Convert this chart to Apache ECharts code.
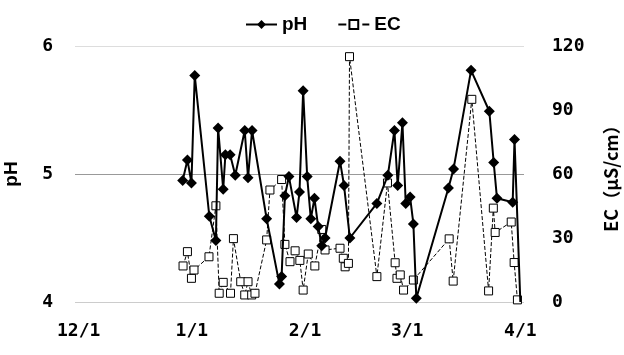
<!DOCTYPE html>
<html>
<head>
<meta charset="utf-8">
<script src="https://cdn.jsdelivr.net/npm/echarts@6/dist/echarts.min.js"></script>
<style>
  html, body { margin: 0; padding: 0; background: #fff; }
  #chart { width: 624px; height: 355px; }
</style>
</head>
<body>
<div id="chart"></div>
<script>
// days counted from 12/1
var tickDays = [0, 31, 62, 90, 121];
var tickLabels = ['12/1', '1/1', '2/1', '3/1', '4/1'];

var phDays = [28.5, 29.8, 30.9, 31.8, 35.8, 37.6, 38.2, 39.6, 40.2, 41.5, 42.9, 45.5, 46.4, 47.5,
  51.5, 55.0, 55.6, 56.5, 57.6, 59.7, 60.5, 61.5, 62.6, 63.6, 64.6, 65.6, 66.6, 67.5, 71.6, 72.7,
  74.3, 81.7, 84.7, 86.5, 87.4, 88.7, 89.6, 90.8, 91.7, 92.5, 101.3, 102.7, 107.5, 112.5, 113.7,
  114.6, 118.9, 119.4];
var phValues = [4.95, 5.11, 4.93, 5.77, 4.67, 4.48, 5.36, 4.88, 5.15, 5.15, 4.99, 5.34, 4.97, 5.34,
  4.65, 4.14, 4.2, 4.83, 4.98, 4.66, 4.86, 5.65, 4.98, 4.65, 4.81, 4.59, 4.44, 4.5, 5.1, 4.91,
  4.5, 4.77, 4.99, 5.34, 4.91, 5.4, 4.77, 4.82, 4.61, 4.03, 4.89, 5.04, 5.81, 5.49, 5.09,
  4.81, 4.78, 5.27];
// line falls to the axis at the end
var phEnd = [121, 4.0];

var ecDays = [28.6, 29.8, 30.9, 31.6, 35.7, 37.6, 38.5, 39.6, 41.6, 42.4, 44.4, 45.5, 46.4, 47.4,
  48.3, 51.5, 52.4, 55.6, 56.5, 57.9, 59.3, 60.6, 61.5, 62.9, 64.7, 66.6, 67.5, 71.6, 72.5, 73.0,
  73.9, 74.2, 81.7, 84.6, 86.7, 87.2, 88.1, 89.0, 91.7, 101.5, 102.6, 107.7, 112.3, 113.6, 114.1,
  118.5, 119.3, 120.2];
var ecValues = [16.9, 23.6, 11.1, 15, 21.2, 45.1, 4.1, 9.2, 4.1, 29.7, 9.5, 3.3, 9.5, 3.3,
  4.1, 29.1, 52.5, 57.4, 27, 18.9, 24, 19.5, 5.6, 22.5, 16.9, 34, 24.4, 25.2, 20.5, 16.5,
  18.1, 115, 11.9, 55.8, 18.4, 11.1, 12.7, 5.6, 10.3, 29.6, 9.8, 95, 5.2, 44, 32.6,
  37.5, 18.5, 1];

var phData = [];
for (var i = 0; i < phDays.length; i++) {
  phData.push([phDays[i], phValues[i]]);
}
phData.push({ value: phEnd, symbol: 'none' });

var ecData = [];
for (var j = 0; j < ecDays.length; j++) {
  ecData.push([ecDays[j], ecValues[j]]);
}

var labelFont = {
  color: '#000',
  fontWeight: 'bold',
  fontSize: 18,
  fontFamily: 'DejaVu Sans Mono'
};

var myChart = echarts.init(document.getElementById('chart'));
myChart.setOption({
  animation: false,
  backgroundColor: '#fff',
  // x range padded by one day each side so 12/1 and 4/1 labels stay centred
  grid: { left: 75, right: 100, top: 46, bottom: 53, outerBoundsMode: 'none', containLabel: false },
  legend: {
    top: 10,
    left: 240,
    itemWidth: 31,
    itemHeight: 11,
    itemGap: 30,
    textStyle: { color: '#000', fontWeight: 'bold', fontSize: 19, fontFamily: 'Liberation Sans' },
    data: ['pH', 'EC']
  },
  xAxis: {
    type: 'value',
    min: -1,
    max: 122,
    axisLine: { show: false },
    axisTick: { show: false },
    splitLine: { show: false },
    axisLabel: Object.assign({
      margin: 20,
      customValues: tickDays,
      formatter: function (v) {
        var k = tickDays.indexOf(v);
        return k >= 0 ? tickLabels[k] : '';
      }
    }, labelFont)
  },
  yAxis: [{
    type: 'value',
    min: 4,
    max: 6,
    interval: 1,
    name: 'pH',
    nameLocation: 'middle',
    nameRotate: 90,
    nameGap: 54,
    nameTextStyle: { color: '#000', fontWeight: 'bold', fontSize: 19, fontFamily: 'Liberation Sans' },
    axisLine: { show: false },
    axisTick: { show: false },
    splitLine: { show: true, lineStyle: { color: ['#ccc', '#999', '#ddd'], width: 1 } },
    axisLabel: Object.assign({ margin: 22 }, labelFont)
  }, {
    type: 'value',
    position: 'right',
    min: 0,
    max: 120,
    interval: 30,
    name: 'EC（μS/cm）',
    nameLocation: 'middle',
    nameRotate: 90,
    nameGap: 78,
    nameTextStyle: { color: '#000', fontWeight: 'bold', fontSize: 18, fontFamily: 'Noto Sans CJK JP' },
    axisLine: { show: false },
    axisTick: { show: false },
    splitLine: { show: false },
    axisLabel: Object.assign({ margin: 28 }, labelFont)
  }],
  series: [{
    name: 'pH',
    type: 'line',
    yAxisIndex: 0,
    data: phData,
    symbol: 'diamond',
    symbolSize: 11,
    z: 3,
    itemStyle: { color: '#000' },
    lineStyle: { color: '#000', width: 2 }
  }, {
    name: 'EC',
    type: 'line',
    yAxisIndex: 1,
    data: ecData,
    symbol: 'rect',
    symbolSize: 8,
    z: 2,
    itemStyle: { color: '#fff', borderColor: '#000', borderWidth: 1 },
    lineStyle: { color: '#000', width: 1, type: 'dashed' }
  }]
});
</script>
</body>
</html>
